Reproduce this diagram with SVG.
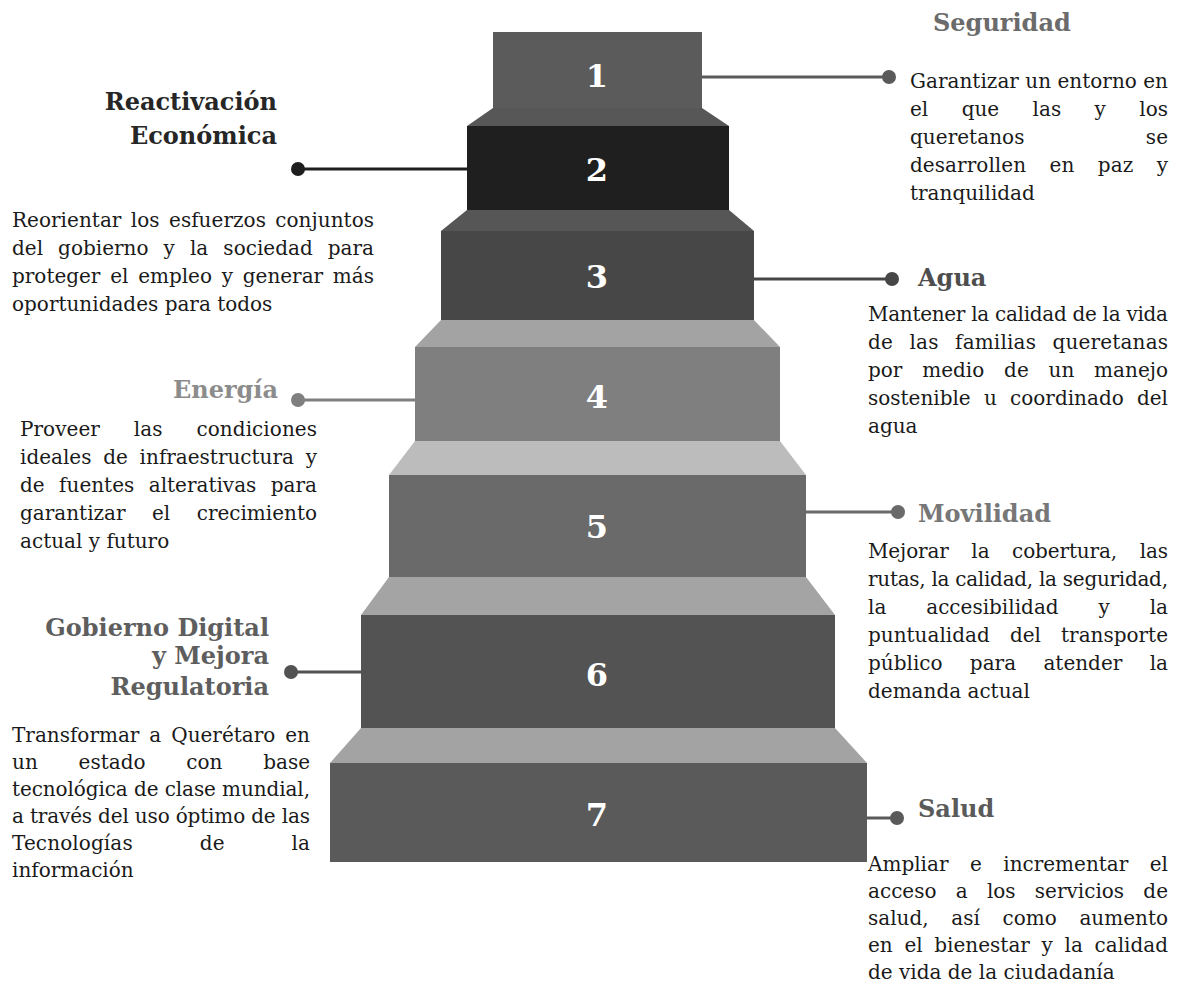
<svg xmlns="http://www.w3.org/2000/svg" width="1183" height="993" viewBox="0 0 1183 993">
<style>
.num{font-family:"DejaVu Serif",serif;font-weight:bold;font-size:32px;fill:#ffffff;text-anchor:middle}
.ttl{font-family:"DejaVu Serif",serif;font-weight:bold;font-size:24px}
.r{text-anchor:end}
.body{font-family:"DejaVu Serif",serif;font-size:20px;fill:#1a1a1a}
.conn line{stroke-width:3}
</style>
<rect width="1183" height="993" fill="#ffffff"/>
<g id="stairs">
<g id="step1"><rect x="493" y="32" width="209" height="76" fill="#5b5b5b"/><text class="num" x="597" y="87">1</text></g>
<g id="step2"><polygon points="493,108 702,108 729,126 467,126" fill="#575757"/><rect x="467" y="126" width="262" height="84" fill="#1f1f1f"/><text class="num" x="597" y="181">2</text></g>
<g id="step3"><polygon points="467,210 729,210 754,231 441,231" fill="#565656"/><rect x="441" y="231" width="313" height="89" fill="#474747"/><text class="num" x="597" y="288">3</text></g>
<g id="step4"><polygon points="441,320 754,320 780,347 415,347" fill="#a3a3a3"/><rect x="415" y="347" width="365" height="94" fill="#7f7f7f"/><text class="num" x="597" y="408">4</text></g>
<g id="step5"><polygon points="415,441 780,441 806,475 389,475" fill="#bcbcbc"/><rect x="389" y="475" width="417" height="102" fill="#6a6a6a"/><text class="num" x="597" y="538">5</text></g>
<g id="step6"><polygon points="389,577 806,577 835,615 361,615" fill="#a4a4a4"/><rect x="361" y="615" width="474" height="113" fill="#535353"/><text class="num" x="597" y="686">6</text></g>
<g id="step7"><polygon points="361,728 835,728 867,763 330,763" fill="#a3a3a3"/><rect x="330" y="763" width="537" height="99" fill="#5a5a5a"/><text class="num" x="597" y="826">7</text></g>
</g>
<g id="connectors" class="conn">
<line x1="702" y1="77" x2="889" y2="77" stroke="#5a5a5a"/><circle cx="889" cy="77" r="7" fill="#5a5a5a"/>
<line x1="298" y1="169" x2="467" y2="169" stroke="#1e1e1e"/><circle cx="298" cy="169" r="7" fill="#1e1e1e"/>
<line x1="754" y1="279" x2="892" y2="279" stroke="#464646"/><circle cx="892" cy="279" r="7" fill="#464646"/>
<line x1="298" y1="400" x2="415" y2="400" stroke="#7f7f7f"/><circle cx="298" cy="400" r="7" fill="#7f7f7f"/>
<line x1="806" y1="512" x2="898" y2="512" stroke="#6a6a6a"/><circle cx="898" cy="512" r="7" fill="#6a6a6a"/>
<line x1="291" y1="672" x2="361" y2="672" stroke="#525252"/><circle cx="291" cy="672" r="7" fill="#525252"/>
<line x1="867" y1="818" x2="897" y2="818" stroke="#5a5a5a"/><circle cx="897" cy="818" r="7" fill="#5a5a5a"/>
</g>
<g id="seguridad">
<text class="ttl" x="933" y="31" fill="#6b6b6b">Seguridad</text>
<text class="body" x="910" y="88" textLength="258" lengthAdjust="spacing">Garantizar un entorno en</text>
<text class="body" x="910" y="116" textLength="258" lengthAdjust="spacing" word-spacing="27">el que las y los</text>
<text class="body" x="910" y="144" textLength="258" lengthAdjust="spacing" word-spacing="115">queretanos se</text>
<text class="body" x="910" y="172" textLength="258" lengthAdjust="spacing" word-spacing="17">desarrollen en paz y</text>
<text class="body" x="910" y="200">tranquilidad</text>
</g>
<g id="reactivacion">
<text class="ttl r" x="277" y="110" fill="#262626">Reactivación</text>
<text class="ttl r" x="277" y="144" fill="#262626">Económica</text>
<text class="body" x="12" y="227" textLength="362" lengthAdjust="spacing" word-spacing="3">Reorientar los esfuerzos conjuntos</text>
<text class="body" x="12" y="255" textLength="362" lengthAdjust="spacing" word-spacing="8.7">del gobierno y la sociedad para</text>
<text class="body" x="12" y="283" textLength="362" lengthAdjust="spacing" word-spacing="3.4">proteger el empleo y generar más</text>
<text class="body" x="12" y="311">oportunidades para todos</text>
</g>
<g id="agua">
<text class="ttl" x="918" y="286" fill="#4e4e4e">Agua</text>
<text class="body" x="868" y="321" textLength="300" lengthAdjust="spacing">Mantener la calidad de la vida</text>
<text class="body" x="868" y="349" textLength="300" lengthAdjust="spacing" word-spacing="10">de las familias queretanas</text>
<text class="body" x="868" y="377" textLength="300" lengthAdjust="spacing" word-spacing="13.4">por medio de un manejo</text>
<text class="body" x="868" y="405" textLength="300" lengthAdjust="spacing" word-spacing="6.9">sostenible u coordinado del</text>
<text class="body" x="868" y="433">agua</text>
</g>
<g id="energia">
<text class="ttl r" x="278" y="398" fill="#8c8c8c">Energía</text>
<text class="body" x="20" y="436" textLength="297" lengthAdjust="spacing" word-spacing="27.5">Proveer las condiciones</text>
<text class="body" x="20" y="464" textLength="297" lengthAdjust="spacing" word-spacing="5.4">ideales de infraestructura y</text>
<text class="body" x="20" y="492" textLength="297" lengthAdjust="spacing" word-spacing="8.1">de fuentes alterativas para</text>
<text class="body" x="20" y="520" textLength="297" lengthAdjust="spacing" word-spacing="20.1">garantizar el crecimiento</text>
<text class="body" x="20" y="548">actual y futuro</text>
</g>
<g id="movilidad">
<text class="ttl" x="918" y="522" fill="#777777">Movilidad</text>
<text class="body" x="868" y="558" textLength="300" lengthAdjust="spacing" word-spacing="16.4">Mejorar la cobertura, las</text>
<text class="body" x="868" y="586" textLength="300" lengthAdjust="spacing">rutas, la calidad, la seguridad,</text>
<text class="body" x="868" y="614" textLength="300" lengthAdjust="spacing" word-spacing="33.5">la accesibilidad y la</text>
<text class="body" x="868" y="642" textLength="300" lengthAdjust="spacing" word-spacing="13.8">puntualidad del transporte</text>
<text class="body" x="868" y="670" textLength="300" lengthAdjust="spacing" word-spacing="21">público para atender la</text>
<text class="body" x="868" y="698">demanda actual</text>
</g>
<g id="gobierno">
<text class="ttl r" x="269" y="636" fill="#5e5e5e">Gobierno Digital</text>
<text class="ttl r" x="269" y="664" fill="#5e5e5e">y Mejora</text>
<text class="ttl r" x="269" y="695" fill="#5e5e5e">Regulatoria</text>
<text class="body" x="12" y="742" textLength="298" lengthAdjust="spacing" word-spacing="3.6">Transformar a Querétaro en</text>
<text class="body" x="12" y="769" textLength="298" lengthAdjust="spacing" word-spacing="34.4">un estado con base</text>
<text class="body" x="12" y="796" textLength="298" lengthAdjust="spacing">tecnológica de clase mundial,</text>
<text class="body" x="12" y="823" textLength="298" lengthAdjust="spacing">a través del uso óptimo de las</text>
<text class="body" x="12" y="850" textLength="298" lengthAdjust="spacing" word-spacing="60.5">Tecnologías de la</text>
<text class="body" x="12" y="877">información</text>
</g>
<g id="salud">
<text class="ttl" x="918" y="817" fill="#5a5a5a">Salud</text>
<text class="body" x="868" y="871" textLength="300" lengthAdjust="spacing" word-spacing="15.1">Ampliar e incrementar el</text>
<text class="body" x="868" y="898" textLength="300" lengthAdjust="spacing" word-spacing="12.9">acceso a los servicios de</text>
<text class="body" x="868" y="925" textLength="300" lengthAdjust="spacing" word-spacing="16.3">salud, así como aumento</text>
<text class="body" x="868" y="952" textLength="300" lengthAdjust="spacing" word-spacing="5.3">en el bienestar y la calidad</text>
<text class="body" x="868" y="979">de vida de la ciudadanía</text>
</g>
</svg>
